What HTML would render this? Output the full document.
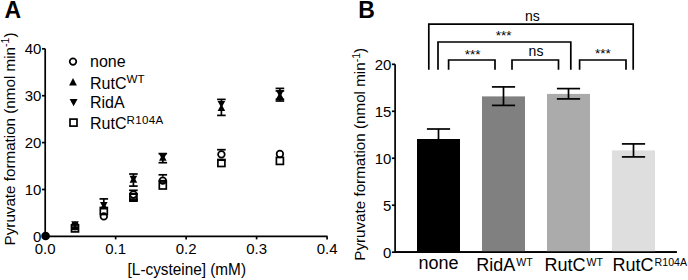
<!DOCTYPE html>
<html><head><meta charset="utf-8"><style>
html,body{margin:0;padding:0;background:#fff;width:688px;height:280px;overflow:hidden}
svg{display:block}
text{font-family:"Liberation Sans",sans-serif}
</style></head><body>
<svg width="688" height="280" viewBox="0 0 688 280">
<text x="4.4" y="17.8" font-family="Liberation Sans, sans-serif" font-weight="bold" font-size="23">A</text>
<text x="358.2" y="17.8" font-family="Liberation Sans, sans-serif" font-weight="bold" font-size="23">B</text>
<path d="M45.2 48.80 V236.4 H327.58" fill="none" stroke="#000" stroke-width="1.7"/>
<line x1="42.0" y1="236.40" x2="45.2" y2="236.40" stroke="#000" stroke-width="1.7"/>
<text transform="translate(41.4 241.80) scale(1 1.035)" font-family="Liberation Sans, sans-serif" font-size="15" text-anchor="end">0</text>
<line x1="42.0" y1="189.50" x2="45.2" y2="189.50" stroke="#000" stroke-width="1.7"/>
<text transform="translate(41.4 194.90) scale(1 1.035)" font-family="Liberation Sans, sans-serif" font-size="15" text-anchor="end">10</text>
<line x1="42.0" y1="142.60" x2="45.2" y2="142.60" stroke="#000" stroke-width="1.7"/>
<text transform="translate(41.4 148.00) scale(1 1.035)" font-family="Liberation Sans, sans-serif" font-size="15" text-anchor="end">20</text>
<line x1="42.0" y1="95.70" x2="45.2" y2="95.70" stroke="#000" stroke-width="1.7"/>
<text transform="translate(41.4 101.10) scale(1 1.035)" font-family="Liberation Sans, sans-serif" font-size="15" text-anchor="end">30</text>
<line x1="42.0" y1="48.80" x2="45.2" y2="48.80" stroke="#000" stroke-width="1.7"/>
<text transform="translate(41.4 54.20) scale(1 1.035)" font-family="Liberation Sans, sans-serif" font-size="15" text-anchor="end">40</text>
<line x1="115.67" y1="236.4" x2="115.67" y2="239.4" stroke="#000" stroke-width="1.7"/>
<line x1="186.14" y1="236.4" x2="186.14" y2="239.4" stroke="#000" stroke-width="1.7"/>
<line x1="256.61" y1="236.4" x2="256.61" y2="239.4" stroke="#000" stroke-width="1.7"/>
<line x1="327.08" y1="236.4" x2="327.08" y2="239.4" stroke="#000" stroke-width="1.7"/>
<text transform="translate(45.20 253.7) scale(1 1.035)" font-family="Liberation Sans, sans-serif" font-size="15" text-anchor="middle">0.0</text>
<text transform="translate(115.67 253.7) scale(1 1.035)" font-family="Liberation Sans, sans-serif" font-size="15" text-anchor="middle">0.1</text>
<text transform="translate(186.14 253.7) scale(1 1.035)" font-family="Liberation Sans, sans-serif" font-size="15" text-anchor="middle">0.2</text>
<text transform="translate(256.61 253.7) scale(1 1.035)" font-family="Liberation Sans, sans-serif" font-size="15" text-anchor="middle">0.3</text>
<text transform="translate(327.08 253.7) scale(1 1.035)" font-family="Liberation Sans, sans-serif" font-size="15" text-anchor="middle">0.4</text>
<text transform="translate(186.8 275.4) scale(1 1.05)" font-family="Liberation Sans, sans-serif" font-size="15.35" text-anchor="middle">[L-cysteine] (mM)</text>
<text transform="translate(14.5 245.4) rotate(-90)" font-family="Liberation Sans, sans-serif" font-size="15.2">Pyruvate formation (nmol min<tspan font-size="10.6" dy="-5.1">-1</tspan><tspan dy="5.1">)</tspan></text>
<text transform="translate(364.8 260.7) rotate(-90)" font-family="Liberation Sans, sans-serif" font-size="15.2">Pyruvate formation (nmol min<tspan font-size="10.6" dy="-5.1">-1</tspan><tspan dy="5.1">)</tspan></text>
<circle cx="73.00" cy="61.60" r="3.3" fill="none" stroke="#000" stroke-width="1.7"/>
<path d="M69.10 85.50 L76.90 85.50 L73.00 78.00Z" fill="#000"/>
<path d="M69.65 98.90 L77.55 98.90 L73.60 106.30Z" fill="#000"/>
<rect x="70.00" y="119.10" width="7.0" height="7.0" fill="none" stroke="#000" stroke-width="1.7"/>
<text x="90.0" y="67.0" font-family="Liberation Sans, sans-serif" font-size="16">none</text>
<text x="90.0" y="88.7" font-family="Liberation Sans, sans-serif" font-size="16">RutC<tspan font-size="11.6" dy="-5.5">WT</tspan></text>
<text x="90.0" y="108.3" font-family="Liberation Sans, sans-serif" font-size="16">RidA</text>
<text x="90.0" y="129.1" font-family="Liberation Sans, sans-serif" font-size="16">RutC<tspan font-size="11.6" dy="-5.5" letter-spacing="0.35">R104A</tspan></text>
<circle cx="45.6" cy="236" r="4.35" fill="#000"/>
<rect x="71.50" y="224.90" width="7.0" height="7.0" fill="none" stroke="#000" stroke-width="1.7"/>
<circle cx="75.00" cy="226.00" r="3.3" fill="none" stroke="#000" stroke-width="1.7"/>
<path d="M71.20 230.30 L78.80 230.30 L75.00 223.30Z" fill="#000"/>
<path d="M71.20 221.15 L78.80 221.15 L75.00 228.15Z" fill="#000"/>
<line x1="103.80" y1="198.90" x2="103.80" y2="202.20" stroke="#000" stroke-width="1.7"/>
<line x1="99.50" y1="198.90" x2="108.10" y2="198.90" stroke="#000" stroke-width="1.7"/>
<rect x="100.30" y="207.50" width="7.0" height="7.0" fill="none" stroke="#000" stroke-width="1.7"/>
<circle cx="103.80" cy="216.40" r="3.3" fill="none" stroke="#000" stroke-width="1.7"/>
<path d="M100.00 209.40 L107.60 209.40 L103.80 202.40Z" fill="#000"/>
<path d="M100.00 202.10 L107.60 202.10 L103.80 209.10Z" fill="#000"/>
<line x1="133.40" y1="174.00" x2="133.40" y2="176.00" stroke="#000" stroke-width="1.7"/>
<line x1="133.40" y1="182.60" x2="133.40" y2="186.10" stroke="#000" stroke-width="1.7"/>
<line x1="129.10" y1="174.00" x2="137.70" y2="174.00" stroke="#000" stroke-width="1.7"/>
<line x1="129.10" y1="186.10" x2="137.70" y2="186.10" stroke="#000" stroke-width="1.7"/>
<path d="M129.60 182.80 L137.20 182.80 L133.40 175.80Z" fill="#000"/>
<path d="M129.60 175.80 L137.20 175.80 L133.40 182.80Z" fill="#000"/>
<line x1="129.10" y1="190.30" x2="137.70" y2="190.30" stroke="#000" stroke-width="1.7"/>
<line x1="129.10" y1="193.65" x2="137.70" y2="193.65" stroke="#000" stroke-width="1.7"/>
<line x1="129.10" y1="199.10" x2="137.70" y2="199.10" stroke="#000" stroke-width="1.7"/>
<line x1="129.10" y1="200.60" x2="137.70" y2="200.60" stroke="#000" stroke-width="1.7"/>
<circle cx="133.40" cy="194.50" r="3.3" fill="none" stroke="#000" stroke-width="1.7"/>
<rect x="129.90" y="194.15" width="7.0" height="7.0" fill="none" stroke="#000" stroke-width="1.7"/>
<line x1="162.80" y1="159.00" x2="162.80" y2="162.70" stroke="#000" stroke-width="1.7"/>
<line x1="158.50" y1="153.60" x2="167.10" y2="153.60" stroke="#000" stroke-width="1.7"/>
<line x1="158.50" y1="162.70" x2="167.10" y2="162.70" stroke="#000" stroke-width="1.7"/>
<path d="M159.00 160.80 L166.60 160.80 L162.80 153.80Z" fill="#000"/>
<path d="M159.00 153.80 L166.60 153.80 L162.80 160.80Z" fill="#000"/>
<line x1="162.80" y1="174.80" x2="162.80" y2="176.60" stroke="#000" stroke-width="1.7"/>
<line x1="158.50" y1="174.80" x2="167.10" y2="174.80" stroke="#000" stroke-width="1.7"/>
<line x1="158.50" y1="180.70" x2="167.10" y2="180.70" stroke="#000" stroke-width="1.7"/>
<circle cx="162.80" cy="180.60" r="3.3" fill="none" stroke="#000" stroke-width="1.7"/>
<rect x="159.30" y="182.00" width="7.0" height="7.0" fill="none" stroke="#000" stroke-width="1.7"/>
<line x1="221.40" y1="99.40" x2="221.40" y2="101.00" stroke="#000" stroke-width="1.7"/>
<line x1="221.40" y1="109.00" x2="221.40" y2="115.40" stroke="#000" stroke-width="1.7"/>
<line x1="217.10" y1="99.40" x2="225.70" y2="99.40" stroke="#000" stroke-width="1.7"/>
<line x1="217.10" y1="115.40" x2="225.70" y2="115.40" stroke="#000" stroke-width="1.7"/>
<path d="M217.60 100.90 L225.20 100.90 L221.40 107.90Z" fill="#000"/>
<path d="M217.60 110.90 L225.20 110.90 L221.40 103.90Z" fill="#000"/>
<line x1="221.40" y1="149.70" x2="221.40" y2="150.40" stroke="#000" stroke-width="1.7"/>
<line x1="217.10" y1="149.70" x2="225.70" y2="149.70" stroke="#000" stroke-width="1.7"/>
<line x1="217.10" y1="160.20" x2="225.70" y2="160.20" stroke="#000" stroke-width="1.7"/>
<circle cx="221.40" cy="154.40" r="3.3" fill="none" stroke="#000" stroke-width="1.7"/>
<rect x="217.90" y="159.50" width="7.0" height="7.0" fill="none" stroke="#000" stroke-width="1.7"/>
<line x1="279.90" y1="88.40" x2="279.90" y2="91.00" stroke="#000" stroke-width="1.7"/>
<line x1="279.90" y1="98.00" x2="279.90" y2="101.00" stroke="#000" stroke-width="1.7"/>
<line x1="275.60" y1="88.40" x2="284.20" y2="88.40" stroke="#000" stroke-width="1.7"/>
<line x1="275.60" y1="90.90" x2="284.20" y2="90.90" stroke="#000" stroke-width="1.7"/>
<line x1="275.60" y1="99.30" x2="284.20" y2="99.30" stroke="#000" stroke-width="1.7"/>
<line x1="275.60" y1="101.00" x2="284.20" y2="101.00" stroke="#000" stroke-width="1.7"/>
<path d="M276.10 90.50 L283.70 90.50 L279.90 97.50Z" fill="#000"/>
<path d="M276.10 99.00 L283.70 99.00 L279.90 92.00Z" fill="#000"/>
<circle cx="279.90" cy="154.00" r="3.3" fill="none" stroke="#000" stroke-width="1.7"/>
<rect x="276.40" y="157.40" width="7.0" height="7.0" fill="none" stroke="#000" stroke-width="1.7"/>
<path d="M395.1 64.30 V252.2 H676.8" fill="none" stroke="#000" stroke-width="1.7"/>
<line x1="391.90000000000003" y1="252.20" x2="395.1" y2="252.20" stroke="#000" stroke-width="1.7"/>
<text transform="translate(391.3 257.70) scale(1 1.035)" font-family="Liberation Sans, sans-serif" font-size="15" text-anchor="end">0</text>
<line x1="391.90000000000003" y1="205.22" x2="395.1" y2="205.22" stroke="#000" stroke-width="1.7"/>
<text transform="translate(391.3 210.72) scale(1 1.035)" font-family="Liberation Sans, sans-serif" font-size="15" text-anchor="end">5</text>
<line x1="391.90000000000003" y1="158.25" x2="395.1" y2="158.25" stroke="#000" stroke-width="1.7"/>
<text transform="translate(391.3 163.75) scale(1 1.035)" font-family="Liberation Sans, sans-serif" font-size="15" text-anchor="end">10</text>
<line x1="391.90000000000003" y1="111.28" x2="395.1" y2="111.28" stroke="#000" stroke-width="1.7"/>
<text transform="translate(391.3 116.78) scale(1 1.035)" font-family="Liberation Sans, sans-serif" font-size="15" text-anchor="end">15</text>
<line x1="391.90000000000003" y1="64.30" x2="395.1" y2="64.30" stroke="#000" stroke-width="1.7"/>
<text transform="translate(391.3 69.80) scale(1 1.035)" font-family="Liberation Sans, sans-serif" font-size="15" text-anchor="end">20</text>
<rect x="417.0" y="139.0" width="43.0" height="113.19999999999999" fill="#000000"/>
<line x1="426.90" y1="129.00" x2="450.10" y2="129.00" stroke="#000" stroke-width="1.7"/><line x1="438.50" y1="129.00" x2="438.50" y2="149.00" stroke="#000" stroke-width="1.7"/><line x1="426.90" y1="149.00" x2="450.10" y2="149.00" stroke="#000" stroke-width="1.7"/>
<rect x="482.0" y="96.4" width="43.0" height="155.79999999999998" fill="#808080"/>
<line x1="491.90" y1="86.90" x2="515.10" y2="86.90" stroke="#000" stroke-width="1.7"/><line x1="503.50" y1="86.90" x2="503.50" y2="105.40" stroke="#000" stroke-width="1.7"/><line x1="491.90" y1="105.40" x2="515.10" y2="105.40" stroke="#000" stroke-width="1.7"/>
<rect x="547.0" y="93.9" width="43.0" height="158.29999999999998" fill="#ababab"/>
<line x1="556.90" y1="88.60" x2="580.10" y2="88.60" stroke="#000" stroke-width="1.7"/><line x1="568.50" y1="88.60" x2="568.50" y2="98.90" stroke="#000" stroke-width="1.7"/><line x1="556.90" y1="98.90" x2="580.10" y2="98.90" stroke="#000" stroke-width="1.7"/>
<rect x="612.0" y="150.4" width="43.0" height="101.79999999999998" fill="#dedede"/>
<line x1="621.90" y1="143.90" x2="645.10" y2="143.90" stroke="#000" stroke-width="1.7"/><line x1="633.50" y1="143.90" x2="633.50" y2="156.90" stroke="#000" stroke-width="1.7"/><line x1="621.90" y1="156.90" x2="645.10" y2="156.90" stroke="#000" stroke-width="1.7"/>
<line x1="395.1" y1="252.2" x2="676.8" y2="252.2" stroke="#000" stroke-width="1.7"/>
<text x="438.5" y="268.7" font-family="Liberation Sans, sans-serif" font-size="18" text-anchor="middle">none</text>
<text x="476.2" y="271.1" font-family="Liberation Sans, sans-serif" font-size="18">RidA<tspan font-size="10.6" dx="1.0" dy="-5.4">WT</tspan></text>
<text x="544.4" y="271.1" font-family="Liberation Sans, sans-serif" font-size="18">RutC<tspan font-size="10.6" dx="1.0" dy="-5.4">WT</tspan></text>
<text x="612.6" y="271.1" font-family="Liberation Sans, sans-serif" font-size="18">RutC<tspan font-size="10.6" dx="1.0" dy="-5.4">R104A</tspan></text>
<path d="M428.8 69.8 V24.2 H633.2 V69.8" fill="none" stroke="#000" stroke-width="1.7"/>
<path d="M438.0 69.8 V42.0 H570.8 V69.8" fill="none" stroke="#000" stroke-width="1.7"/>
<path d="M448.6 69.8 V60.0 H495.0 V69.8" fill="none" stroke="#000" stroke-width="1.7"/>
<path d="M512.0 69.8 V60.0 H558.5 V69.8" fill="none" stroke="#000" stroke-width="1.7"/>
<path d="M579.6 69.8 V60.0 H626.0 V69.8" fill="none" stroke="#000" stroke-width="1.7"/>
<text x="532.3" y="20.6" font-family="Liberation Sans, sans-serif" font-size="14" text-anchor="middle">ns</text>
<text x="536.0" y="55.8" font-family="Liberation Sans, sans-serif" font-size="14" text-anchor="middle">ns</text>
<text x="503.7" y="39.7" font-family="Liberation Sans, sans-serif" font-size="13.5" text-anchor="middle">***</text>
<text x="472.6" y="59.2" font-family="Liberation Sans, sans-serif" font-size="13.5" text-anchor="middle">***</text>
<text x="602.9" y="57.8" font-family="Liberation Sans, sans-serif" font-size="13.5" text-anchor="middle">***</text>
</svg>
</body></html>
